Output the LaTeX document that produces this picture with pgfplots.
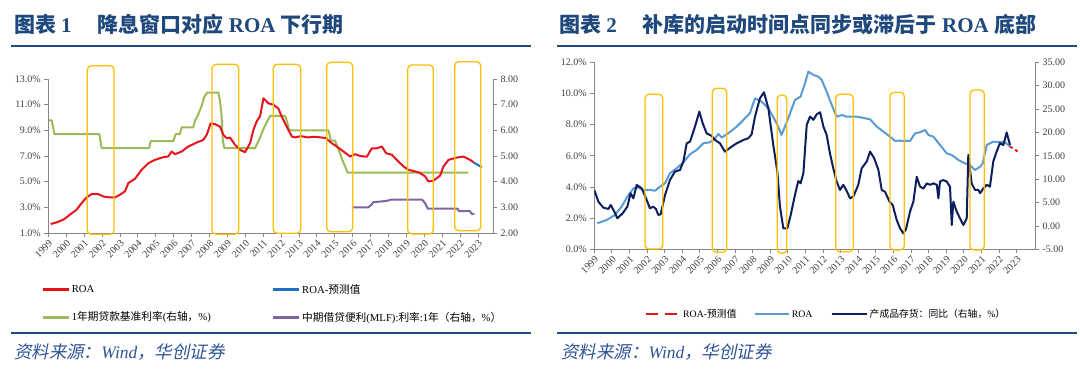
\documentclass[border=0pt]{standalone}
\usepackage{pgfplots}
\pgfplotsset{compat=1.18}
\usepackage{fontspec}
\setmainfont{Liberation Serif}
\newfontfamily\cjk{Noto Sans CJK SC}
\newfontfamily\cjkit[FakeSlant=0.2]{Noto Sans CJK SC}
\newcommand{\C}[1]{{\cjk #1}}
\definecolor{titleblue}{HTML}{1F497D}
\definecolor{srcblue}{HTML}{2F5597}
\definecolor{roared}{HTML}{E8141C}
\definecolor{predblue}{HTML}{1F70C1}
\definecolor{lgreen}{HTML}{9BBB59}
\definecolor{lpurple}{HTML}{8064A2}
\definecolor{lblue}{HTML}{5B9BD5}
\definecolor{navy}{HTML}{0D1E5E}
\definecolor{boxy}{HTML}{FFC000}
\definecolor{axisgray}{HTML}{868686}
\definecolor{tickgray}{HTML}{404040}
\pgfplotsset{
  exstyle/.style={scale only axis, anchor=south west,
    axis line style={draw=axisgray, line width=0.8pt, -},
    tick style={draw=axisgray, line width=0.8pt},
    major tick length=4pt, tick align=outside,
    ticklabel style={font=\fontsize{10}{10}\selectfont, text=tickgray},
    xtick={1999,...,2023},
    xticklabels={1999,2000,2001,2002,2003,2004,2005,2006,2007,2008,2009,2010,2011,2012,2013,2014,2015,2016,2017,2018,2019,2020,2021,2022,2023},
    x tick label style={rotate=45, anchor=north east, inner sep=1.5pt},
    ytick pos=left, xtick pos=bottom},
  rstyle/.style={scale only axis, anchor=south west,
    axis line style={draw=axisgray, line width=0.8pt, -},
    tick style={draw=axisgray, line width=0.8pt},
    major tick length=4pt, tick align=outside,
    ticklabel style={font=\fontsize{10}{10}\selectfont, text=tickgray},
    axis x line=none, axis y line*=right},
  ln/.style={line width=2pt, line join=round}
}
\begin{document}
\begin{tikzpicture}
\path[use as bounding box, fill=white] (0pt,0pt) rectangle (1080pt,384pt);

% ================= Panel 1 axes =================
\begin{axis}[rstyle, at={(48.3pt,151pt)}, width=444.7pt, height=154pt,
  xmin=1999, xmax=2023.84, ymin=2, ymax=8,
  ytick={2,3,4,5,6,7,8}, yticklabels={2.00,3.00,4.00,5.00,6.00,7.00,8.00}]
\addplot[ln, lgreen] coordinates {(1999.0,6.39)(1999.19,6.39)(1999.34,5.85)(2001.85,5.85)(2001.98,5.31)(2004.64,5.31)(2004.72,5.58)(2005.98,5.58)(2006.11,5.85)(2006.35,5.85)(2006.45,6.12)(2007.1,6.12)(2007.2,6.39)(2007.35,6.57)(2007.5,6.84)(2007.6,7.02)(2007.7,7.29)(2007.88,7.47)(2008.5,7.47)(2008.58,7.20)(2008.67,6.66)(2008.75,5.58)(2008.83,5.31)(2010.55,5.31)(2010.73,5.56)(2010.88,5.81)(2011.02,6.06)(2011.2,6.31)(2011.39,6.56)(2012.23,6.56)(2012.35,6.31)(2012.45,6.00)(2014.65,6.00)(2014.78,5.60)(2015.02,5.60)(2015.15,5.35)(2015.3,5.10)(2015.42,4.85)(2015.58,4.60)(2015.71,4.35)(2022.47,4.35)};
\addplot[ln, lpurple] coordinates {(2015.95,3.0)(2016.88,3.0)(2016.95,3.05)(2017.05,3.10)(2017.15,3.20)(2017.9,3.25)(2018.15,3.30)(2019.86,3.30)(2019.95,3.25)(2020.05,3.15)(2020.2,2.95)(2021.85,2.95)(2021.95,2.85)(2022.55,2.85)(2022.65,2.75)(2022.8,2.75)};
\end{axis}

\begin{axis}[exstyle, at={(48.3pt,151pt)}, width=444.7pt, height=154pt,
  xmin=1999, xmax=2023.84, ymin=1, ymax=13,
  axis x line*=bottom, axis y line*=left,
  ytick={1,3,5,7,9,11,13}, yticklabels={1.0\%,3.0\%,5.0\%,7.0\%,9.0\%,11.0\%,13.0\%}]
\addplot[ln, roared] coordinates {(1999.13,1.70)(1999.47,1.83)(1999.84,2.04)(2000.21,2.43)(2000.58,2.81)(2000.86,3.33)(2001.14,3.77)(2001.42,4.03)(2001.79,4.03)(2002.07,3.85)(2002.45,3.77)(2002.72,3.77)(2003.0,3.98)(2003.28,4.24)(2003.47,4.89)(2003.84,5.22)(2004.21,5.92)(2004.59,6.44)(2004.96,6.70)(2005.42,6.91)(2005.70,6.96)(2005.89,7.35)(2006.08,7.14)(2006.45,7.35)(2006.82,7.74)(2007.29,8.05)(2007.66,8.26)(2007.85,8.65)(2008.07,9.55)(2008.31,9.48)(2008.59,9.29)(2008.78,8.65)(2008.96,8.39)(2009.15,8.44)(2009.43,7.87)(2009.71,7.48)(2009.99,7.30)(2010.27,8.0)(2010.45,9.0)(2010.64,9.7)(2010.83,10.1)(2011.02,11.5)(2011.3,11.1)(2011.57,11.0)(2011.85,10.7)(2012.04,10.07)(2012.32,9.29)(2012.6,8.52)(2012.8,8.45)(2013.1,8.55)(2013.5,8.45)(2013.9,8.5)(2014.5,8.4)(2014.83,8.0)(2015.11,7.74)(2015.49,7.35)(2015.86,6.96)(2016.14,7.14)(2016.42,7.0)(2016.79,6.94)(2017.07,7.6)(2017.35,7.6)(2017.63,7.74)(2017.87,7.22)(2018.19,7.1)(2018.46,6.7)(2018.84,6.18)(2019.12,5.92)(2019.49,5.8)(2019.77,5.67)(2020.05,5.41)(2020.23,5.02)(2020.51,5.07)(2020.89,5.48)(2021.07,6.18)(2021.35,6.70)(2021.82,6.88)(2022.19,6.96)(2022.56,6.70)(2022.75,6.50)};
\addplot[ln, predblue] coordinates {(2022.75,6.50)(2023.0,6.3)(2023.21,6.13)};
\end{axis}

% ================= Panel 2 axes =================
\begin{axis}[exstyle, at={(594.3pt,134.7pt)}, width=440.7pt, height=187pt,
  xmin=1999, xmax=2024.04, ymin=0, ymax=12,
  axis x line*=bottom, axis y line*=left,
  ytick={0,2,4,6,8,10,12}, yticklabels={0.0\%,2.0\%,4.0\%,6.0\%,8.0\%,10.0\%,12.0\%}]
\addplot[ln, lblue] coordinates {(1999.17,1.67)(1999.7,1.88)(2000.17,2.20)(2000.55,2.74)(2000.88,3.38)(2001.22,3.91)(2001.5,3.96)(2001.78,3.81)(2002.16,3.81)(2002.45,3.76)(2002.73,4.02)(2003.02,4.24)(2003.3,4.88)(2003.68,5.20)(2004.06,5.58)(2004.44,6.10)(2004.81,6.37)(2005.19,6.80)(2005.57,6.87)(2005.86,7.12)(2006.05,7.40)(2006.24,7.17)(2006.61,7.44)(2007.09,7.87)(2007.47,8.30)(2007.84,8.73)(2008.13,9.69)(2008.5,9.48)(2008.89,9.05)(2009.36,8.09)(2009.64,7.34)(2010.02,8.41)(2010.4,9.58)(2010.72,9.80)(2010.97,10.65)(2011.16,11.40)(2011.45,11.19)(2011.73,11.08)(2011.92,10.87)(2012.2,10.12)(2012.49,9.26)(2012.77,8.51)(2013.06,8.62)(2013.34,8.51)(2013.91,8.51)(2014.38,8.41)(2014.67,8.34)(2015.05,7.87)(2015.42,7.55)(2015.8,7.23)(2016.09,6.95)(2016.3,6.98)(2016.56,6.95)(2016.94,6.95)(2017.22,7.44)(2017.51,7.51)(2017.79,7.66)(2017.98,7.34)(2018.27,7.23)(2018.64,6.70)(2019.02,6.16)(2019.31,6.05)(2019.69,5.73)(2020.06,5.52)(2020.35,5.41)(2020.63,5.09)(2020.92,5.30)(2021.07,5.52)(2021.3,6.70)(2021.68,6.91)(2022.05,6.87)(2022.34,6.87)(2022.62,6.59)};
\addplot[ln, roared, dashed] coordinates {(2022.62,6.59)(2022.9,6.4)(2023.19,6.16)};
\end{axis}

\begin{axis}[rstyle, at={(594.3pt,134.7pt)}, width=440.7pt, height=187pt,
  xmin=1999, xmax=2024.04, ymin=-5, ymax=35,
  ytick={-5,0,5,10,15,20,25,30,35}, yticklabels={-5.00,0.00,5.00,10.00,15.00,20.00,25.00,30.00,35.00}]
\addplot[ln, navy] coordinates {(1999.0,7.69)(1999.23,5.20)(1999.51,3.91)(1999.8,3.63)(1999.93,4.48)(2000.12,3.20)(2000.31,1.63)(2000.61,2.70)(2000.88,4.13)(2001.06,6.98)(2001.22,5.91)(2001.41,8.76)(2001.69,8.05)(2001.94,5.91)(2002.16,3.77)(2002.35,4.13)(2002.5,3.63)(2002.64,2.34)(2002.77,2.49)(2003.02,6.62)(2003.3,9.83)(2003.58,11.61)(2003.87,11.97)(2004.06,13.75)(2004.25,17.67)(2004.44,18.03)(2004.72,21.24)(2004.97,24.45)(2005.16,21.95)(2005.38,19.81)(2005.67,19.24)(2005.86,18.39)(2006.14,17.67)(2006.42,15.89)(2006.8,16.96)(2007.09,17.67)(2007.47,18.39)(2007.75,18.74)(2007.94,19.60)(2008.13,23.38)(2008.41,27.30)(2008.64,28.58)(2008.89,25.16)(2009.17,17.32)(2009.4,11.61)(2009.55,4.13)(2009.74,-0.51)(2009.97,-0.51)(2010.16,2.34)(2010.4,6.62)(2010.59,9.62)(2010.72,9.12)(2010.88,11.3)(2011.07,21.6)(2011.26,23.4)(2011.45,22.7)(2011.64,23.9)(2011.83,24.3)(2012.02,21.2)(2012.2,19.5)(2012.39,15.5)(2012.58,12.3)(2012.77,9.5)(2012.96,7.7)(2013.15,8.8)(2013.34,7.5)(2013.53,5.9)(2013.72,6.3)(2014.0,8.8)(2014.19,12.3)(2014.48,13.8)(2014.67,15.9)(2014.9,14.5)(2015.14,12.0)(2015.33,7.7)(2015.52,7.3)(2015.77,5.2)(2015.95,4.5)(2016.18,1.3)(2016.37,-0.5)(2016.56,-1.6)(2016.71,-0.7)(2016.94,3.1)(2017.13,5.2)(2017.32,10.5)(2017.51,8.4)(2017.7,8.0)(2017.89,9.1)(2018.08,8.8)(2018.27,9.1)(2018.46,8.8)(2018.55,5.9)(2018.64,9.5)(2018.83,9.8)(2019.02,9.5)(2019.21,8.4)(2019.31,0.2)(2019.4,5.2)(2019.59,3.1)(2019.78,1.6)(2019.97,0.2)(2020.16,1.6)(2020.25,15.2)(2020.44,9.1)(2020.63,7.7)(2020.82,7.7)(2020.92,7.0)(2021.1,8.0)(2021.3,8.8)(2021.48,8.4)(2021.67,13.8)(2021.86,15.9)(2022.05,17.7)(2022.24,17.3)(2022.43,20.0)(2022.62,17.3)};
\end{axis}

\begin{scope}[x=1pt,y=1pt]
% ---- panel 1 annotations ----
\node[anchor=west, text=titleblue, font=\fontsize{21}{22}\selectfont\bfseries, inner sep=0] at (13.8,359.8)
  {\C{图表} 1\hspace{26pt}\C{降息窗口对应} ROA \C{下行期}};
\draw[titleblue, line width=1.5pt] (11.4,338) -- (530.6,338);
\begin{scope}[boxy, line width=1.3pt, rounded corners=4pt]
\draw (87.3,318.3) rectangle (114,149.7);
\draw (212,319.7) rectangle (238.7,149.7);
\draw (273.3,319.7) rectangle (300.7,150.7);
\draw (326.7,321.7) rectangle (352.7,152.3);
\draw (407.7,319) rectangle (433.3,150);
\draw (454.7,322.3) rectangle (480.7,153.3);
\end{scope}
\begin{scope}[font=\fontsize{10.7}{12}\selectfont, text=black]
\draw[roared, line width=2.5pt] (43,94.5) -- (69,94.5);
\node[anchor=west, inner sep=0] at (71.6,94.5) {ROA};
\draw[predblue, line width=2.5pt] (273,94.5) -- (299,94.5);
\node[anchor=west, inner sep=0] at (302,94.5) {ROA-\C{预测值}};
\draw[lgreen, line width=2.5pt] (43,66.4) -- (69,66.4);
\node[anchor=west, inner sep=0] at (71.6,66.4) {1\C{年期贷款基准利率}(\C{右轴，}\%)};
\draw[lpurple, line width=2.5pt] (273,66.4) -- (299,66.4);
\node[anchor=west, inner sep=0] at (302,66.4) {\C{中期借贷便利}(MLF):\C{利率}:1\C{年（右轴，}\%\C{）}};
\end{scope}
\draw[titleblue, line width=1.5pt] (11.4,51) -- (530.6,51);
\node[anchor=west, inner sep=0, text=srcblue, font=\fontsize{17.5}{18}\selectfont] at (13.8,32.2)
  {\cjkit 资料来源：{\rmfamily\itshape Wind}\cjkit ，华创证券};

% ---- panel 2 annotations ----
\node[anchor=west, text=titleblue, font=\fontsize{21}{22}\selectfont\bfseries, inner sep=0] at (559,359.8)
  {\C{图表} 2\hspace{26pt}\C{补库的启动时间点同步或滞后于} ROA \C{底部}};
\draw[titleblue, line width=1.5pt] (557,338) -- (1076.5,338);
\begin{scope}[boxy, line width=1.3pt, rounded corners=4pt]
\draw (645,289.7) rectangle (662.7,135);
\draw (712.3,295.7) rectangle (726.7,131.7);
\draw (777.3,289) rectangle (786.7,130.7);
\draw (835.7,289.7) rectangle (853.3,132.3);
\draw (890,291.7) rectangle (904.3,134);
\draw (970,294) rectangle (984.3,134);
\end{scope}
\begin{scope}[font=\fontsize{9.8}{11}\selectfont, text=black]
\draw[roared, line width=2.5pt, dash pattern=on 12pt off 7pt] (645.6,70) -- (676.7,70);
\node[anchor=west, inner sep=0] at (683,70) {ROA-\C{预测值}};
\draw[lblue, line width=2.5pt] (754.6,70) -- (789,70);
\node[anchor=west, inner sep=0] at (791.6,70) {ROA};
\draw[navy, line width=2.5pt] (831.8,70) -- (867,70);
\node[anchor=west, inner sep=0] at (869.5,70) {\C{产成品存货：同比（右轴，}\%\C{）}};
\end{scope}
\draw[titleblue, line width=1.5pt] (557,51) -- (1076.5,51);
\node[anchor=west, inner sep=0, text=srcblue, font=\fontsize{17.5}{18}\selectfont] at (560.8,32.2)
  {\cjkit 资料来源：{\rmfamily\itshape Wind}\cjkit ，华创证券};
\end{scope}
\end{tikzpicture}
\end{document}
